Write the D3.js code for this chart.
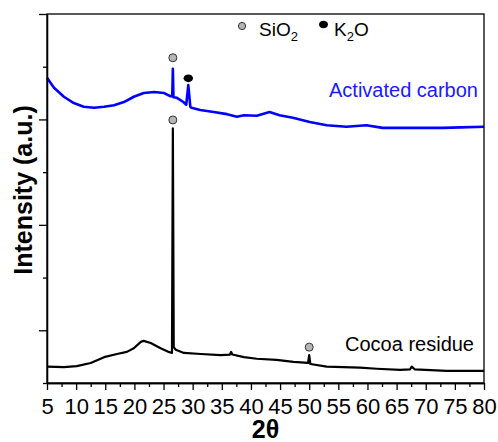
<!DOCTYPE html>
<html lang="en">
<head>
    <meta charset="UTF-8">
    <title>XRD patterns</title>
    <style>
        body {
            margin: 0;
            background-color: white;
        }

        svg text {
            font-family: "Liberation Sans", Arial, sans-serif;
        }

        .axis path,
        .axis line {
            stroke: black;
            stroke-width: 1.3px;
        }

        .axis text {
            font-size: 22px;
            fill: black;
        }

        .title {
            font-size: 25px;
            font-weight: bold;
        }
    </style>
    <script src="https://d3js.org/d3.v7.min.js"></script>
</head>
<body>

<script>
    const width = 498;
    const height = 442;
    const margin = {top: 14, right: 14, bottom: 59, left: 47};

    // Activated carbon pattern
    const thetaAC = [5, 6.2, 7.9, 9.6, 11.3, 13.1, 14.8, 16.5, 18.2, 19.9, 21.6, 23.4, 25.1, 26.2,
                     26.5, 26.6, 26.7, 27.3, 28.4, 28.9, 29.25, 29.6, 29.8, 31.3, 33.6, 35.9, 37.6,
                     38.8, 41.0, 43.2, 44.9, 47.2, 50.1, 53.0, 56.4, 59.8, 62.6, 67.2, 72.9, 76, 80];
    const intensityAC = [5.79, 5.60, 5.43, 5.31, 5.24, 5.22, 5.24, 5.27, 5.33, 5.43, 5.50, 5.52, 5.50, 5.44,
                         5.44, 5.96, 5.42, 5.41, 5.33, 5.28, 5.65, 5.24, 5.22, 5.18, 5.14, 5.10, 5.05,
                         5.08, 5.07, 5.14, 5.08, 5.03, 4.95, 4.89, 4.86, 4.89, 4.84, 4.84, 4.84, 4.85, 4.86];

    // Cocoa residue pattern
    const thetaCR = [5, 7.9, 10.1, 12.5, 14.8, 17.0, 18.7, 19.9, 21.1, 21.6, 22.8, 24.5, 25.9, 26.45,
                     26.6, 26.75, 27.1, 28.5, 31.4, 34.8, 36.4, 36.6, 36.8, 38.8, 41.0, 44.4, 47.3,
                     49.8, 50.0, 50.2, 53.0, 58.7, 61.6, 65.6, 67.3, 67.6, 68.1, 73.6, 80];
    const intensityCR = [0.31, 0.30, 0.32, 0.38, 0.49, 0.55, 0.59, 0.66, 0.78, 0.80, 0.76, 0.66, 0.59, 0.57,
                         4.83, 0.68, 0.63, 0.57, 0.55, 0.53, 0.54, 0.59, 0.54, 0.49, 0.46, 0.44, 0.40,
                         0.38, 0.53, 0.36, 0.31, 0.29, 0.27, 0.25, 0.26, 0.31, 0.26, 0.23, 0.23];

    // phase markers: 2theta, intensity, phase
    const markTheta = [26.6, 29.25, 26.6, 50.0];
    const markIntensity = [6.17, 5.78, 4.99, 0.68];
    const markPhase = ["SiO2", "K2O", "SiO2", "SiO2"];

    const xMajor = d3.range(5, 81, 5);
    const xMinor = d3.range(7.5, 80, 5);
    const yMajor = [1, 3, 5, 7];
    const yMinor = [0, 2, 4, 6];

    const svg = d3.select("body")
                  .append("svg")
                  .attr("width", width)
                  .attr("height", height);

    const x = d3.scaleLinear()
                .domain([5, 80])
                .range([margin.left, width - margin.right]);

    const y = d3.scaleLinear()
                .domain([0, 7])
                .range([height - margin.bottom, margin.top]);

    const line = d3.line()
                   .x(d => x(d[0]))
                   .y(d => y(d[1]));

    svg.append("path")
       .datum(d3.zip(thetaCR, intensityCR))
       .attr("fill", "none")
       .attr("stroke", "black")
       .attr("stroke-width", 2.2)
       .attr("stroke-linejoin", "round")
       .attr("d", line);

    svg.append("path")
       .datum(d3.zip(thetaAC, intensityAC))
       .attr("fill", "none")
       .attr("stroke", "#0000ff")
       .attr("stroke-width", 2.6)
       .attr("stroke-linejoin", "round")
       .attr("d", line);

    // frame
    svg.append("rect")
       .attr("x", x(5))
       .attr("y", y(7))
       .attr("width", x(80) - x(5))
       .attr("height", y(0) - y(7))
       .attr("fill", "none")
       .attr("stroke", "black")
       .attr("stroke-width", 1.3);

    // x axis: major with labels, minor without
    const xAxis = svg.append("g")
                     .attr("class", "axis")
                     .attr("transform", `translate(0,${y(0)})`)
                     .call(d3.axisBottom(x).tickValues(xMajor).tickSize(7).tickSizeOuter(0));
    xAxis.selectAll("text").attr("y", 31).attr("dy", null);

    svg.append("g")
       .attr("class", "axis")
       .attr("transform", `translate(0,${y(0)})`)
       .call(d3.axisBottom(x).tickValues(xMinor).tickSize(4).tickSizeOuter(0).tickFormat(""));

    svg.append("g")
       .attr("class", "axis")
       .attr("transform", `translate(${x(5)},0)`)
       .call(d3.axisLeft(y).tickValues(yMajor).tickSize(8).tickSizeOuter(0).tickFormat(""));

    svg.append("g")
       .attr("class", "axis")
       .attr("transform", `translate(${x(5)},0)`)
       .call(d3.axisLeft(y).tickValues(yMinor).tickSize(4).tickSizeOuter(0).tickFormat(""));

    // phase markers
    markTheta.forEach((t, i) => {
        if (markPhase[i] === "SiO2") {
            svg.append("circle")
               .attr("cx", x(t))
               .attr("cy", y(markIntensity[i]))
               .attr("r", 4)
               .attr("fill", "#b5b5b5")
               .attr("stroke", "#333")
               .attr("stroke-width", 1);
        } else {
            svg.append("ellipse")
               .attr("cx", x(t))
               .attr("cy", y(markIntensity[i]))
               .attr("rx", 4.7)
               .attr("ry", 3.9)
               .attr("fill", "black");
        }
    });

    // legend
    svg.append("circle")
       .attr("cx", 242).attr("cy", 26).attr("r", 3.6)
       .attr("fill", "#b5b5b5").attr("stroke", "#333").attr("stroke-width", 1);

    const sio2 = svg.append("text").attr("x", 259).attr("y", 36).style("font-size", "19px");
    sio2.append("tspan").text("SiO");
    sio2.append("tspan").attr("dy", 5).style("font-size", "13px").text("2");

    svg.append("ellipse")
       .attr("cx", 323.5).attr("cy", 24.5).attr("rx", 4.5).attr("ry", 3.8)
       .attr("fill", "black");

    const k2o = svg.append("text").attr("x", 334).attr("y", 36).style("font-size", "19px");
    k2o.append("tspan").text("K");
    k2o.append("tspan").attr("dy", 5).style("font-size", "13px").text("2");
    k2o.append("tspan").attr("dy", -5).text("O");

    // series labels
    svg.append("text")
       .attr("x", 478).attr("y", 97)
       .attr("text-anchor", "end")
       .attr("fill", "#1a1aff")
       .style("font-size", "20px")
       .text("Activated carbon");

    svg.append("text")
       .attr("x", 474).attr("y", 351)
       .attr("text-anchor", "end")
       .style("font-size", "20px")
       .text("Cocoa residue");

    // axis titles
    svg.append("text")
       .attr("class", "title")
       .attr("text-anchor", "middle")
       .attr("transform", "translate(32,190) rotate(-90)")
       .text("Intensity (a.u.)");

    svg.append("text")
       .attr("class", "title")
       .attr("text-anchor", "middle")
       .attr("x", (x(5) + x(80)) / 2)
       .attr("y", 438)
       .text("2θ");
</script>

</body>
</html>
